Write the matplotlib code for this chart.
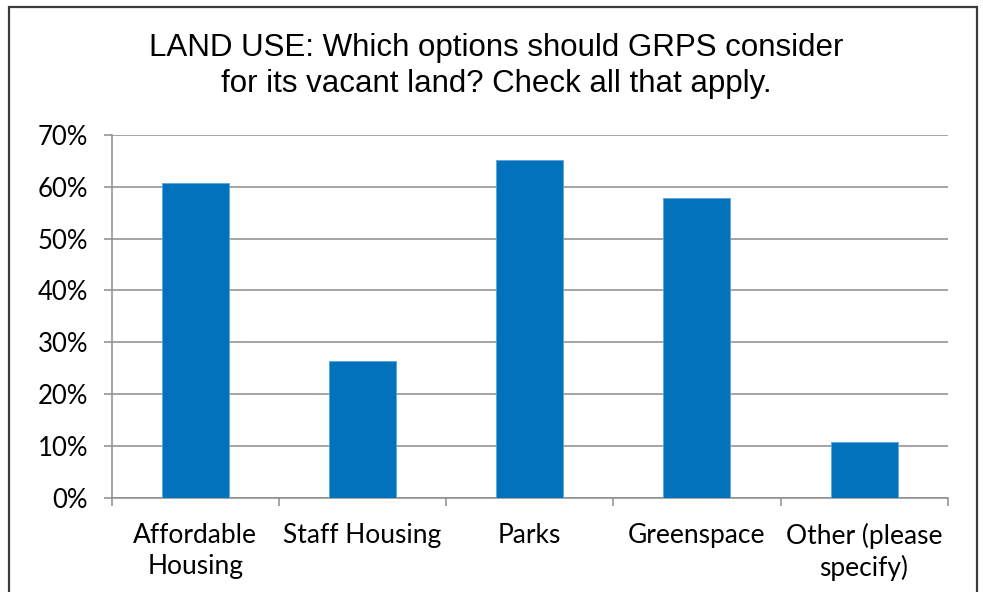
import matplotlib
matplotlib.use("Agg")
from matplotlib import pyplot as plt
from matplotlib.patches import Rectangle
from matplotlib.ticker import FixedLocator, PercentFormatter

categories = ["Affordable\nHousing", "Staff Housing", "Parks", "Greenspace", "Other (please\nspecify)"]
shares = [60.7, 26.4, 65.2, 57.8, 10.7]
y_ticks = [0, 10, 20, 30, 40, 50, 60, 70]

title = "LAND USE: Which options should GRPS consider\nfor its vacant land? Check all that apply."

fig = plt.figure(figsize=(9.83, 5.92), dpi=100)
ax = fig.add_axes([111.7 / 983, 94.3 / 592, 836 / 983, 362.7 / 592])

centers = [i + 0.5 for i in range(len(categories))]
ax.bar(centers, shares, width=0.4, color="#0172BB", edgecolor="#5aa6dc", linewidth=0.6, zorder=3)

ax.set_xlim(0, len(categories))
ax.set_ylim(0, 70)
ax.set_yticks(y_ticks)
ax.yaxis.set_major_formatter(PercentFormatter(decimals=0))
ax.grid(axis="y", color="#8c8c8c", linewidth=1.1, zorder=0)

# category boundaries get tick marks, labels sit in the middle
ax.xaxis.set_major_locator(FixedLocator(range(len(categories) + 1)))
ax.xaxis.set_minor_locator(FixedLocator(centers))
ax.set_xticklabels([""] * (len(categories) + 1))
ax.set_xticklabels(categories, minor=True, fontfamily="Lato", fontsize=19, linespacing=1.3)
ax.tick_params(axis="x", which="major", length=6, color="#8c8c8c", width=1.1)
ax.tick_params(axis="x", which="minor", length=0, pad=18)
ax.tick_params(axis="y", length=6, color="#8c8c8c", width=1.1, pad=11)
for lab in ax.get_yticklabels():
    lab.set_fontfamily("Lato")
    lab.set_fontsize(18.5)

for side in ["top", "right"]:
    ax.spines[side].set_visible(False)
for side in ["left", "bottom"]:
    ax.spines[side].set_color("#8c8c8c")
    ax.spines[side].set_linewidth(1.1)

fig.text(496 / 983, 1 - 66 / 592, title, ha="center", va="center",
         fontfamily="Liberation Sans", fontsize=22.5, linespacing=1.25)

# chart frame
fig.add_artist(Rectangle((9 / 983, -0.05), 968 / 983, 1.05 - 7 / 592, transform=fig.transFigure,
                         fill=False, edgecolor="#3a3a3a", linewidth=1.6))

fig.savefig("out.png", dpi=100)
